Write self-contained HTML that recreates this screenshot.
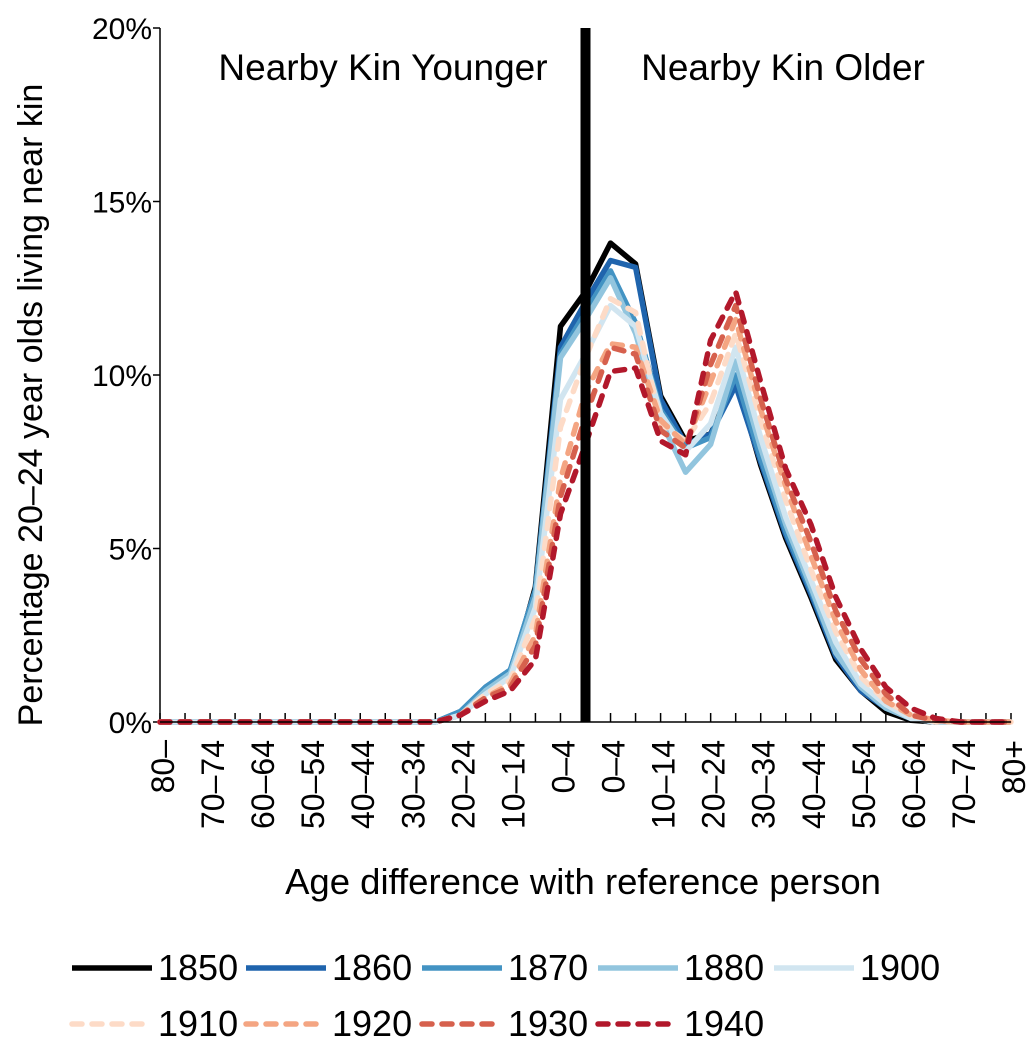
<!DOCTYPE html>
<html><head><meta charset="utf-8"><style>
html,body{margin:0;padding:0;background:#fff;}
svg text{font-family:"Liberation Sans",Arial,sans-serif;fill:#000;}
</style></head><body>
<svg id="chart" width="1036" height="1050" viewBox="0 0 1036 1050" xmlns="http://www.w3.org/2000/svg"></svg>
<script>
const categories = ["80–","75–79","70–74","65–69","60–64","55–59","50–54","45–49","40–44","35–39","30–34","25–29","20–24","15–19","10–14","5–9","0–4","","0–4","5–9","10–14","15–19","20–24","25–29","30–34","35–39","40–44","45–49","50–54","55–59","60–64","65–69","70–74","75–79","80+"];
const yTicks = [0,5,10,15,20];
const yTickLabels = ["0%","5%","10%","15%","20%"];
const seriesNames = ["1850","1860","1870","1880","1900","1910","1920","1930","1940"];
const Z12 = [0,0,0,0,0,0,0,0,0,0,0,0];
const s1850 = Z12.concat([0.2,0.9,1.3,3.9,11.4,12.4,13.8,13.2,9.4,8.1,8.3,9.9,7.4,5.3,3.6,1.8,0.9,0.3,0.05,0,0,0,0]);
const s1860 = Z12.concat([0.3,1.0,1.5,3.8,10.8,12.1,13.3,13.1,9.3,8.0,8.3,9.7,7.5,5.4,3.7,1.9,0.9,0.4,0.1,0,0,0,0]);
const s1870 = Z12.concat([0.3,1.0,1.5,3.8,10.6,11.8,13.0,11.5,9.0,7.9,8.2,10.0,7.6,5.5,3.8,2.0,1.0,0.4,0.1,0,0,0,0]);
const s1880 = Z12.concat([0.2,0.9,1.4,3.6,10.5,11.6,12.8,11.2,8.7,7.2,8.0,10.4,7.9,5.7,3.9,2.0,1.0,0.4,0.1,0,0,0,0]);
const s1900 = Z12.concat([0.2,0.8,1.3,3.3,9.3,10.6,12.0,11.4,8.9,7.8,8.6,10.8,8.2,5.9,4.1,2.3,1.1,0.5,0.1,0,0,0,0]);
const s1910 = Z12.concat([0.2,0.8,1.2,3.0,8.5,10.5,12.2,11.8,8.6,8.1,9.2,11.2,8.7,6.4,4.4,2.6,1.3,0.6,0.2,0,0,0,0]);
const s1920 = Z12.concat([0.2,0.7,1.1,2.5,7.0,9.5,10.9,10.8,8.7,8.0,9.8,11.6,9.0,6.8,4.8,2.9,1.5,0.6,0.2,0.05,0,0,0]);
const s1930 = Z12.concat([0.2,0.7,1.0,2.2,6.5,8.8,10.8,10.6,8.4,7.9,10.3,12.0,9.3,7.0,5.2,3.2,1.8,0.8,0.2,0.05,0,0,0]);
const s1940 = Z12.concat([0.2,0.6,0.9,1.8,6.0,8.0,10.1,10.2,8.1,7.7,11.0,12.4,9.8,7.3,5.7,3.6,2.1,1.0,0.4,0.1,0,0,0]);
const seriesValues = [s1850,s1860,s1870,s1880,s1900,s1910,s1920,s1930,s1940];
const colors = ["#000000","#1f64ad","#4393c3","#92c5de","#d1e5f0","#fddbc7","#f4a582","#d6604d","#b2182b"];
const dashed = [false,false,false,false,false,true,true,true,true];

const NS="http://www.w3.org/2000/svg";
const svg=document.getElementById('chart');
const X0=160,X1=1011,Y0=722,Y1=28,YMAX=20;
const xs=i=>X0+(X1-X0)*i/(categories.length-1);
const ys=v=>Y0-(Y0-Y1)*v/YMAX;
function el(tag,attrs,parent){const e=document.createElementNS(NS,tag);for(const k in attrs)e.setAttribute(k,attrs[k]);(parent||svg).appendChild(e);return e;}

let a=el('line',{x1:X0,y1:Y1,x2:X0,y2:Y0,stroke:'#000','stroke-width':1.5});


yTicks.forEach((t,i)=>{
  const tk=el('line',{x1:X0-7,x2:X0,y1:ys(t),y2:ys(t),stroke:'#000','stroke-width':1.5});
  
  
  const tx=el('text',{x:X0-8,y:ys(t)+11,'text-anchor':'end','font-size':30});
  tx.textContent=yTickLabels[i];
  
  
});
categories.forEach((c,i)=>{
  const tk=el('line',{x1:xs(i),x2:xs(i),y1:Y0-9,y2:Y0,stroke:'#000','stroke-width':1.5});
  
  
  if(i%2===0 && c){
    const tx=el('text',{transform:`translate(${xs(i)+14},${Y0+18}) rotate(-90)`,'text-anchor':'end','font-size':32});
    tx.textContent=c;
    
    
  }
});

seriesValues.forEach((vals,si)=>{
  const d=vals.map((v,i)=>(i?'L':'M')+xs(i).toFixed(1)+','+ys(v).toFixed(1)).join(' ');
  const p=el('path',{d:d,fill:'none',stroke:colors[si],'stroke-width':5.5,'stroke-linejoin':'round','stroke-linecap':dashed[si]?'round':'butt'});
  if(dashed[si])p.setAttribute('stroke-dasharray','10,10');
  
  
});
let xa=el('line',{x1:X0,y1:Y0,x2:X1,y2:Y0,stroke:'#000','stroke-width':1.5});



let dv=el('rect',{x:xs(17)-5,y:Y1,width:10,height:Y0-Y1,fill:'#000'});



const legendPos=[[72,968],[246,968],[422,968],[598,968],[774,968],[72,1024],[246,1024],[422,1024],[598,1024]];
seriesNames.forEach((n,si)=>{
  const [lx,ly]=legendPos[si];
  const g=el('g',{});
  
  
  const ln=el('line',{x1:lx,x2:lx+80,y1:ly,y2:ly,stroke:colors[si],'stroke-width':5.5,'stroke-linecap':dashed[si]?'round':'butt'},g);
  if(dashed[si])ln.setAttribute('stroke-dasharray','10,10');
  
  
  const t=el('text',{x:lx+86,y:ly+12,'font-size':36},g);
  t.textContent=n;
  
  
});
</script>
<svg style="position:absolute;left:0;top:0" width="1036" height="1050">
<text x="383" y="80" text-anchor="middle" font-size="37" font-family="Liberation Sans, sans-serif">Nearby Kin Younger</text>
<text x="783" y="80" text-anchor="middle" font-size="37" font-family="Liberation Sans, sans-serif">Nearby Kin Older</text>
<text x="583" y="894" text-anchor="middle" font-size="36.5" font-family="Liberation Sans, sans-serif">Age difference with reference person</text>
<text transform="translate(42,405) rotate(-90)" text-anchor="middle" font-size="34" font-family="Liberation Sans, sans-serif">Percentage 20–24  year olds living near kin</text>
</svg>
</body></html>
